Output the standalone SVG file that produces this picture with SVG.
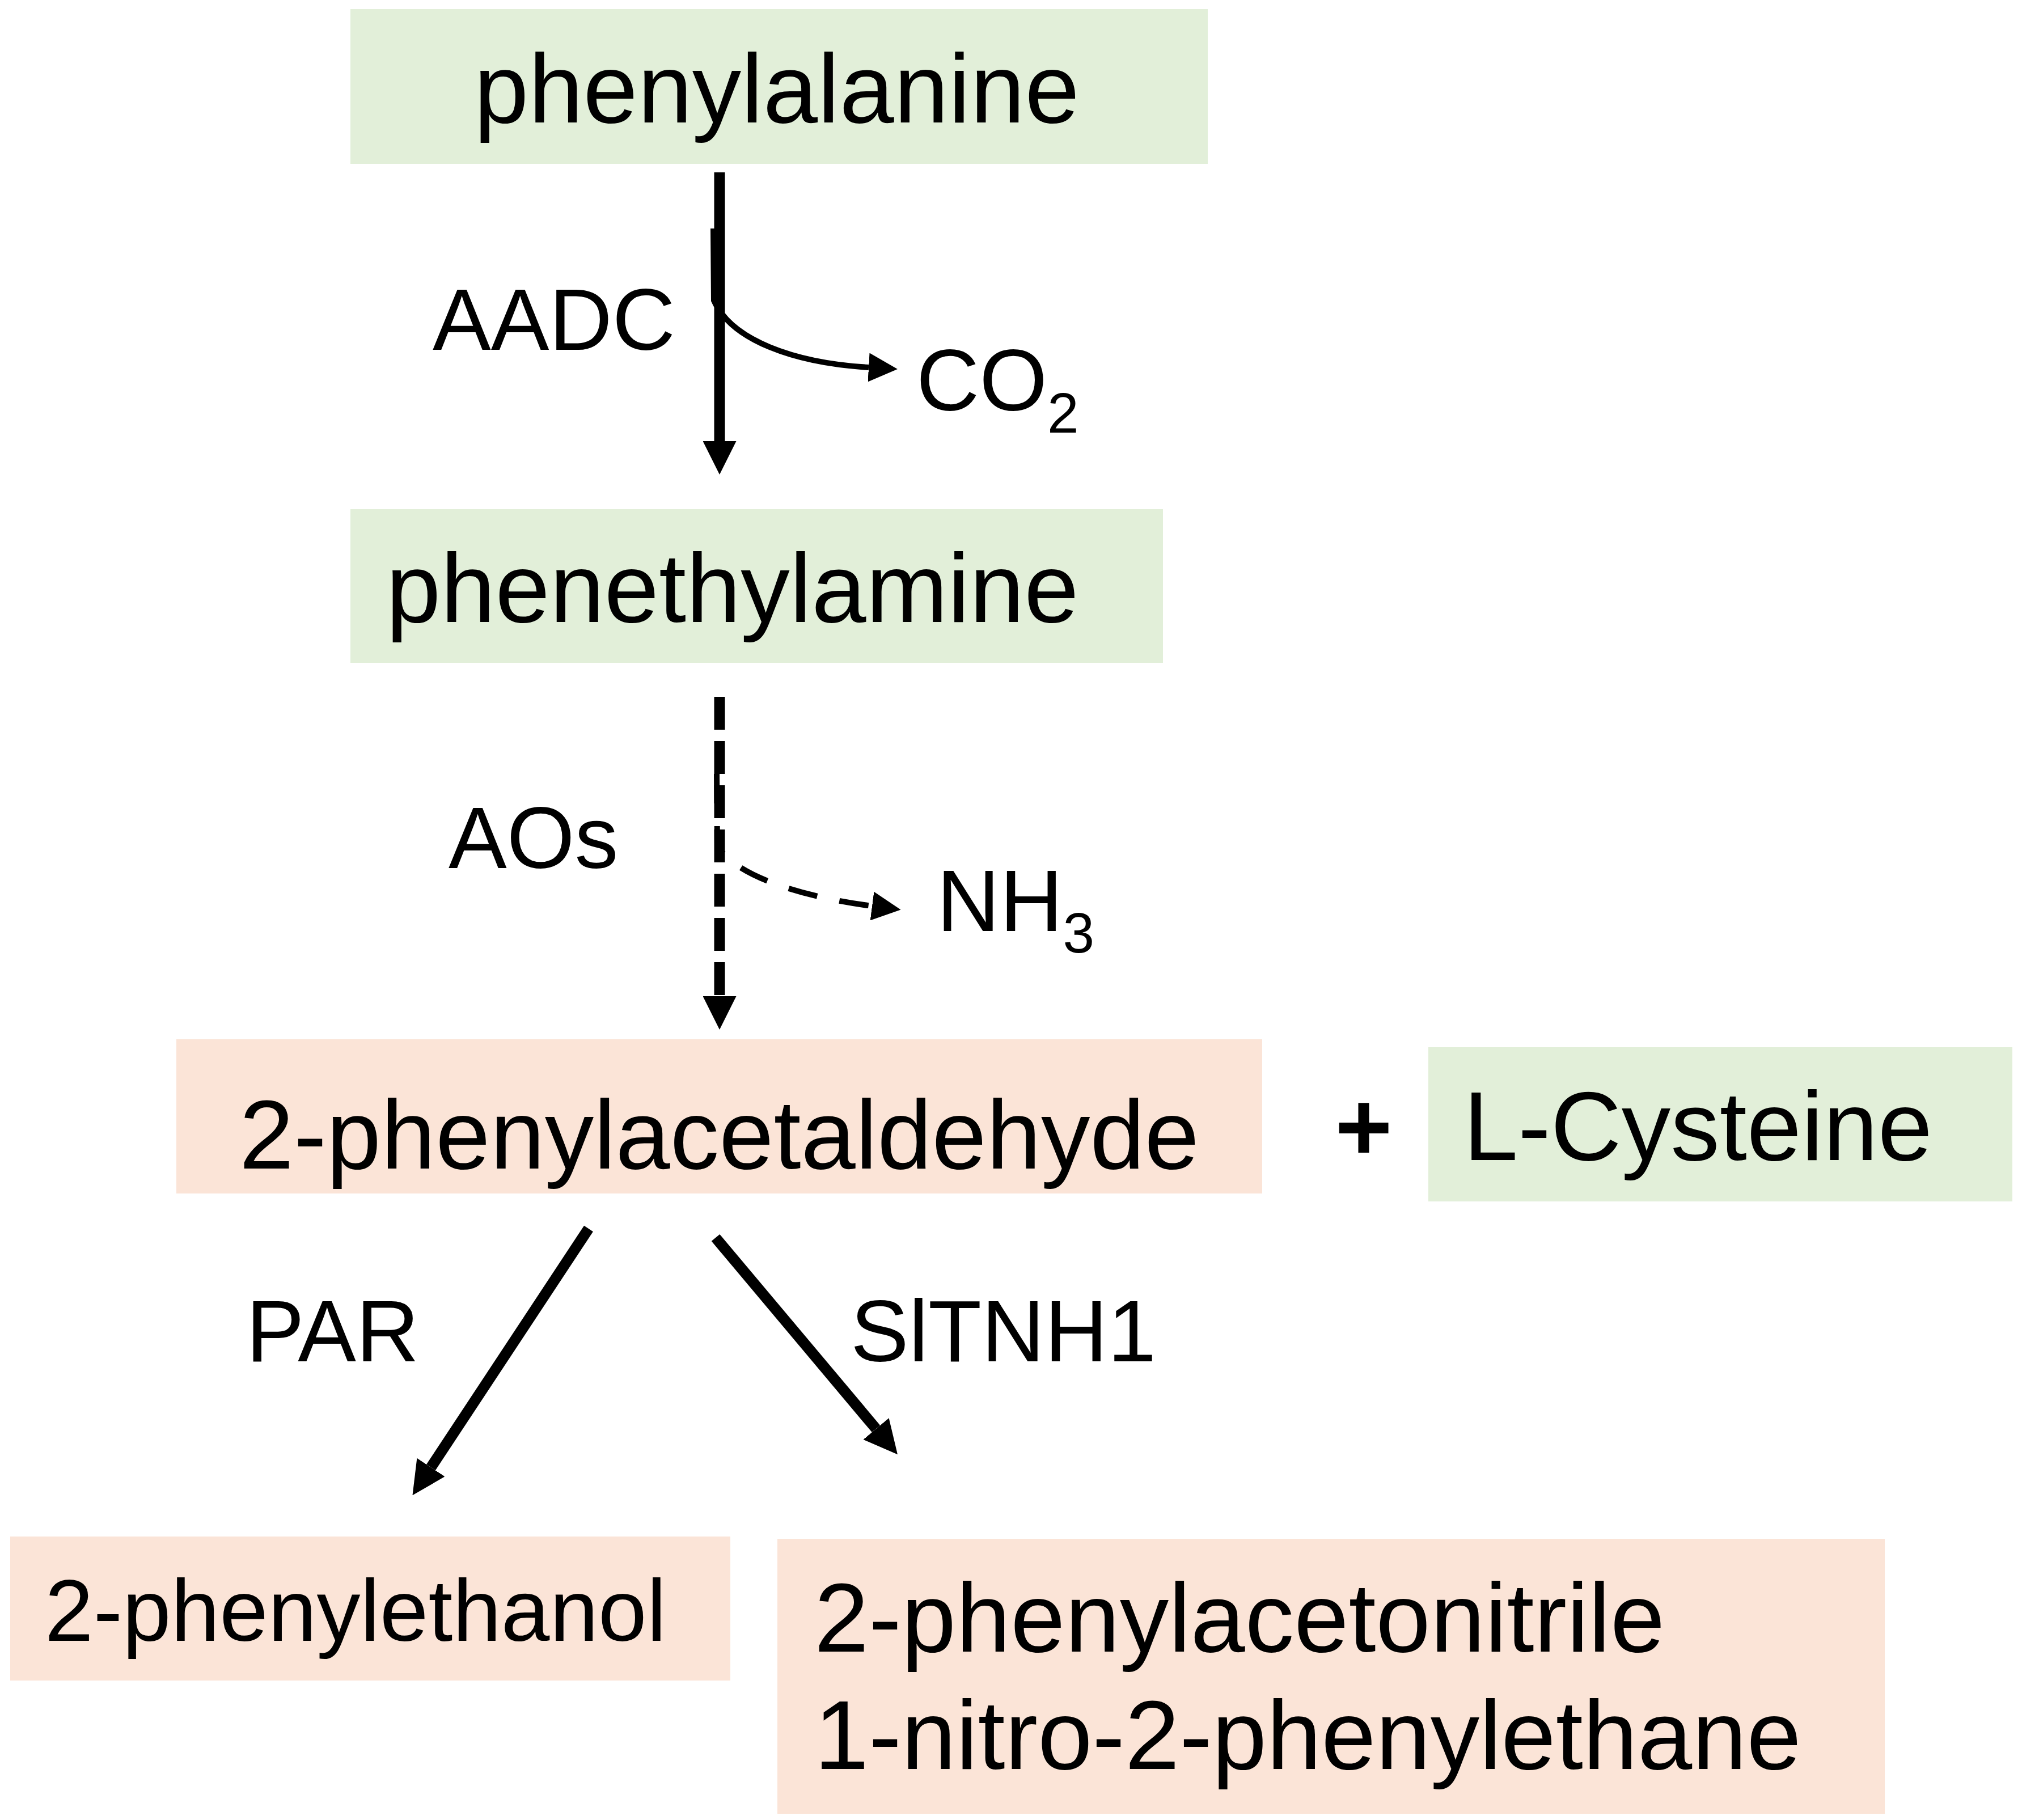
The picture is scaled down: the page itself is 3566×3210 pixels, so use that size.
<svg xmlns="http://www.w3.org/2000/svg" width="3566" height="3210" viewBox="0 0 3566 3210">
<style>
.green{fill:#E2EFD9}
.peach{fill:#FBE4D7}
.t{font-family:"Liberation Sans",Arial,sans-serif;fill:#000}
.big{font-size:173px}
.lab{font-size:154px}
.sub{font-size:100px}
.thick{stroke:#000;stroke-width:19;fill:none}
.thin{stroke:#000;stroke-width:10;fill:none}
</style>
<defs>
<marker id="ahBig" markerUnits="userSpaceOnUse" viewBox="0 0 59 59" markerWidth="59" markerHeight="59" refX="0" refY="29.5" orient="auto">
<path d="M0,0 L59,29.5 L0,59 Z" fill="#000"/>
</marker>
<marker id="ahSmall" markerUnits="userSpaceOnUse" viewBox="0 0 51 51" markerWidth="51" markerHeight="51" refX="0" refY="25.5" orient="auto">
<path d="M0,0 L51,25.5 L0,51 Z" fill="#000"/>
</marker>
</defs>
<rect width="3566" height="3210" fill="#fff"/>
<g id="phenylalanine">
<rect class="green" x="618" y="16" width="1512" height="273"/>
<text class="t big" x="836" y="216">phenylalanine</text>
</g>
<g id="phenethylamine">
<rect class="green" x="618" y="898" width="1433" height="271"/>
<text class="t big" x="681" y="1097">phenethylamine</text>
</g>
<g id="phenylacetaldehyde">
<rect class="peach" x="311" y="1833" width="1915" height="272"/>
<text class="t big" x="422" y="2061">2-phenylacetaldehyde</text>
</g>
<g id="plus">
<text class="t big" x="2405" y="2047" text-anchor="middle" font-weight="bold">+</text>
</g>
<g id="cysteine">
<rect class="green" x="2519" y="1847" width="1030" height="272"/>
<text class="t big" x="2581" y="2046">L-Cysteine</text>
</g>
<g id="phenylethanol">
<rect class="peach" x="18" y="2710" width="1270" height="254"/>
<text class="t lab" x="79" y="2894" font-size="155">2-phenylethanol</text>
</g>
<g id="products">
<rect class="peach" x="1371" y="2714" width="1953" height="485"/>
<text class="t big" x="1436" y="2913">2-phenylacetonitrile</text>
<text class="t big" x="1436" y="3120">1-nitro-2-phenylethane</text>
</g>
<g id="labels">
<text class="t lab" x="763" y="617">AADC</text>
<text class="t lab" x="1616" y="724">CO<tspan class="sub" dy="39">2</tspan></text>
<text class="t lab" x="791" y="1531">AOs</text>
<text class="t lab" x="1652" y="1642">NH<tspan class="sub" dy="38">3</tspan></text>
<text class="t lab" x="434" y="2401">PAR</text>
<text class="t lab" x="1500" y="2401">SlTNH1</text>
</g>
<g id="connectors">
<path class="thick" d="M1269,304 L1269,778" marker-end="url(#ahBig)"/>
<path class="thin" d="M1258,403 L1259,530 C1290,600 1400,640 1532,648" marker-end="url(#ahSmall)"/>
<path class="thick" d="M1269,1229 L1269,1757" stroke-dasharray="58 20" marker-end="url(#ahBig)"/>
<path class="thin" d="M1264,1365 L1265,1490 C1290,1540 1400,1580 1538,1598" stroke-dasharray="52 40" marker-end="url(#ahSmall)"/>
<path class="thick" d="M1038,2167 L760,2588" stroke-width="18" marker-end="url(#ahBig)"/>
<path class="thick" d="M1262,2183 L1545,2520" stroke-width="18" marker-end="url(#ahBig)"/>
</g>
</svg>
